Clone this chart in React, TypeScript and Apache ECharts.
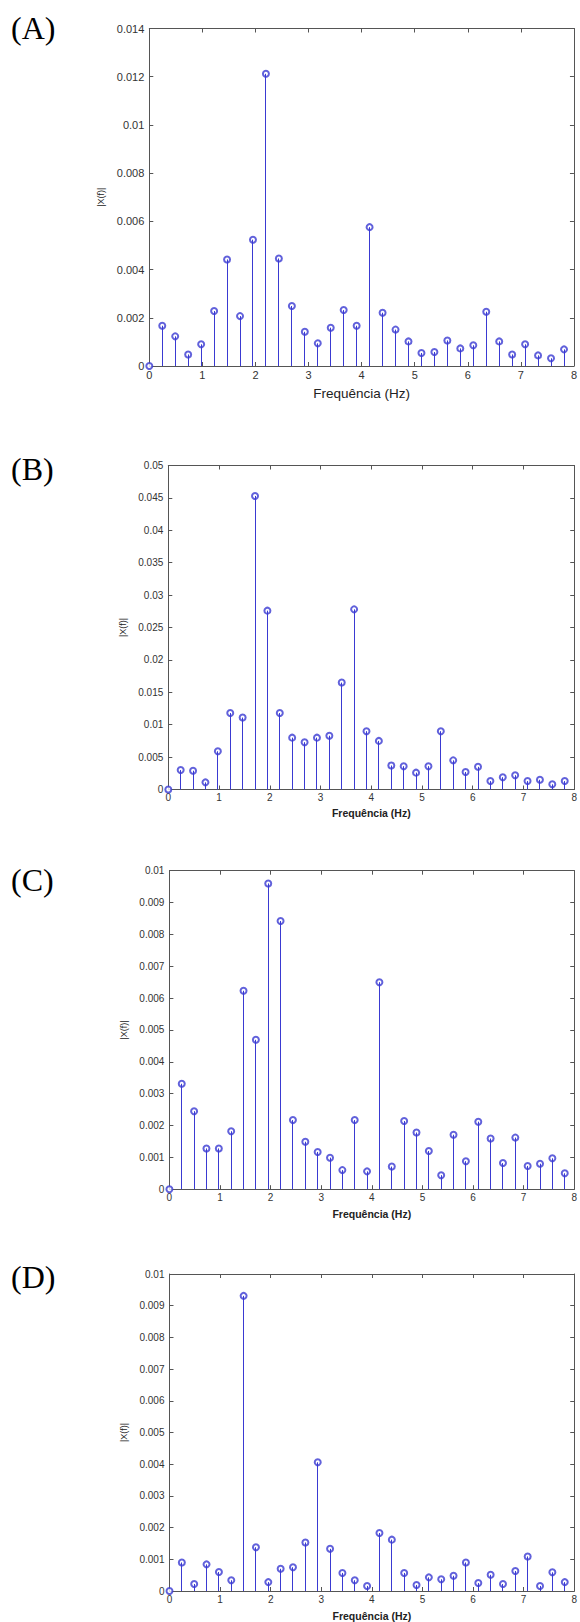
import React, { useEffect, useRef } from "react";
import * as echarts from "echarts";

// ---- DATA ----
const FREQ_HZ = [
  0, 0.244, 0.488, 0.732, 0.977, 1.221, 1.465, 1.709, 1.953, 2.197, 2.441,
  2.686, 2.93, 3.174, 3.418, 3.662, 3.906, 4.15, 4.395, 4.639, 4.883, 5.127,
  5.371, 5.615, 5.859, 6.104, 6.348, 6.592, 6.836, 7.08, 7.324, 7.568, 7.813,
];

const MAG_A = [
  0, 0.00167, 0.00123, 0.00048, 0.0009, 0.00228, 0.00442, 0.00207, 0.00524,
  0.01212, 0.00446, 0.00249, 0.00142, 0.00094, 0.00159, 0.00232, 0.00167,
  0.00576, 0.00221, 0.00151, 0.00102, 0.00054, 0.00058, 0.00106, 0.00073,
  0.00086, 0.00225, 0.00102, 0.00048, 0.0009, 0.00044, 0.00032, 0.00069,
];

const MAG_B = [
  0, 0.003, 0.0029, 0.0011, 0.0059, 0.0118, 0.0111, 0.0453, 0.0276, 0.0118,
  0.008, 0.0073, 0.008, 0.0083, 0.0165, 0.0278, 0.009, 0.0075, 0.0037, 0.0036,
  0.0026, 0.0036, 0.009, 0.0045, 0.0027, 0.0035, 0.0013, 0.0019, 0.0022,
  0.0013, 0.0015, 0.0008, 0.0013,
];

const MAG_C = [
  0, 0.00331, 0.00245, 0.00128, 0.00128, 0.00182, 0.00623, 0.00469, 0.0096,
  0.00842, 0.00217, 0.00149, 0.00117, 0.00099, 0.0006, 0.00217, 0.00056,
  0.0065, 0.00071, 0.00214, 0.00178, 0.0012, 0.00044, 0.00171, 0.00088,
  0.00212, 0.00159, 0.00082, 0.00162, 0.00073, 0.0008, 0.00097, 0.0005,
];

const MAG_D = [
  0, 0.0009, 0.00022, 0.00084, 0.0006, 0.00034, 0.00931, 0.00138, 0.00028,
  0.0007, 0.00075, 0.00153, 0.00406, 0.00133, 0.00057, 0.00034, 0.00016,
  0.00183, 0.00162, 0.00057, 0.00019, 0.00043, 0.00037, 0.00048, 0.0009,
  0.00025, 0.00051, 0.00022, 0.00063, 0.00109, 0.00016, 0.00059, 0.00028,
];

const PANEL_LABELS = ["(A)", "(B)", "(C)", "(D)"];
const Y_MAX = [0.014, 0.05, 0.01, 0.01];
const Y_STEP = [0.002, 0.005, 0.001, 0.001];
const X_MIN = 0;
const X_MAX = 8;
const X_STEP = 1;
const X_TITLE = "Frequência (Hz)";
const Y_TITLE = "|X(f)|";

// ---- LAYOUT / STYLE ----
const LAYOUT = [
  { left: 149.3, top: 28.5, width: 429, height: 337.5, tick: 11, title: 13.5, titleWeight: "normal", nameGapX: 20, nameGapY: 32, letterY: 29 },
  { left: 168.3, top: 465.5, width: 411, height: 324, tick: 10, title: 10.5, titleWeight: "bold", nameGapX: 18, nameGapY: 33, letterY: 470 },
  { left: 169.4, top: 870.7, width: 407.3, height: 318.5, tick: 10, title: 10.5, titleWeight: "bold", nameGapX: 19, nameGapY: 29, letterY: 881 },
  { left: 169.5, top: 1274, width: 407.2, height: 320, tick: 10, title: 10.5, titleWeight: "bold", nameGapX: 19, nameGapY: 31, letterY: 1278 },
];

const BLUE = "#3a3ad2";
const FRAME = "#555555";
const TEXT = "#333333";
const SANS = "'Liberation Sans', Arial, sans-serif";

function fmt(v: number) {
  if (v === 0) return "0";
  return String(parseFloat(v.toFixed(4)));
}

function buildOption() {
  const mags = [MAG_A, MAG_B, MAG_C, MAG_D];
  const grid: any[] = [];
  const xAxis: any[] = [];
  const yAxis: any[] = [];
  const series: any[] = [];
  const graphic: any[] = [];

  mags.forEach((mag, i) => {
    const L = LAYOUT[i];
    grid.push({
      left: L.left,
      top: L.top,
      width: L.width,
      height: L.height,
      show: false,
      containLabel: false,
    });
    const lineStyle = { color: FRAME, width: 1 };
    xAxis.push({
      type: "value",
      gridIndex: i,
      min: X_MIN,
      max: X_MAX,
      interval: X_STEP,
      position: "bottom",
      axisLine: { show: true, onZero: false, lineStyle },
      axisTick: { show: true, inside: true, length: 4, lineStyle },
      axisLabel: { show: true, color: TEXT, fontSize: L.tick, fontFamily: SANS, margin: 3 },
      splitLine: { show: false },
      name: X_TITLE,
      nameLocation: "middle",
      nameGap: L.nameGapX,
      nameTextStyle: { color: "#222", fontSize: L.title, fontWeight: L.titleWeight, fontFamily: SANS, verticalAlign: "top" },
    });
    xAxis.push({
      type: "value",
      gridIndex: i,
      min: X_MIN,
      max: X_MAX,
      interval: X_STEP,
      position: "top",
      axisLine: { show: true, onZero: false, lineStyle },
      axisTick: { show: true, inside: true, length: 4, lineStyle },
      axisLabel: { show: false },
      splitLine: { show: false },
    });
    yAxis.push({
      type: "value",
      gridIndex: i,
      min: 0,
      max: Y_MAX[i],
      interval: Y_STEP[i],
      position: "left",
      axisLine: { show: true, onZero: false, lineStyle },
      axisTick: { show: true, inside: true, length: 4, lineStyle },
      axisLabel: { show: true, color: TEXT, fontSize: L.tick, fontFamily: SANS, margin: 5, formatter: fmt },
      splitLine: { show: false },
      name: Y_TITLE,
      nameLocation: "middle",
      nameRotate: 90,
      nameGap: L.nameGapY,
      nameTextStyle: { color: "#222", fontSize: 9, fontFamily: SANS },
    });
    yAxis.push({
      type: "value",
      gridIndex: i,
      min: 0,
      max: Y_MAX[i],
      interval: Y_STEP[i],
      position: "right",
      axisLine: { show: true, onZero: false, lineStyle },
      axisTick: { show: true, inside: true, length: 4, lineStyle },
      axisLabel: { show: false },
      splitLine: { show: false },
    });

    const data = FREQ_HZ.map((f, k) => [f, mag[k]]);
    series.push({
      type: "scatter",
      xAxisIndex: i * 2,
      yAxisIndex: i * 2,
      data,
      symbol: "emptyCircle",
      symbolSize: 6,
      itemStyle: { color: BLUE, borderColor: BLUE, borderWidth: 1 },
      z: 2,
    });
    series.push({
      type: "custom",
      xAxisIndex: i * 2,
      yAxisIndex: i * 2,
      data,
      encode: { x: 0, y: 1 },
      z: 3,
      renderItem: (params: any, api: any) => {
        const x = api.value(0);
        const y = api.value(1);
        const p0 = api.coord([x, 0]);
        const p1 = api.coord([x, y]);
        const px = Math.round(p0[0] - 0.5) + 0.5;
        return {
          type: "line",
          shape: { x1: px, y1: p0[1], x2: px, y2: p1[1] },
          style: { stroke: BLUE, lineWidth: 1 },
        };
      },
    });

    graphic.push({
      type: "text",
      left: 11,
      top: L.letterY - 17,
      style: {
        text: PANEL_LABELS[i],
        fontSize: 32,
        fontFamily: "'Liberation Serif', 'Times New Roman', serif",
        fill: "#000",
      },
    });
  });

  return {
    animation: false,
    backgroundColor: "#ffffff",
    grid,
    xAxis,
    yAxis,
    series,
    graphic,
  };
}

export default function App() {
  const ref = useRef<HTMLDivElement>(null);
  useEffect(() => {
    document.body.style.margin = "0";
    if (!ref.current) return;
    const chart = echarts.init(ref.current, null, { renderer: "svg" });
    chart.setOption(buildOption() as any);
    return () => chart.dispose();
  }, []);
  return <div ref={ref} style={{ width: 580, height: 1622 }} />;
}
